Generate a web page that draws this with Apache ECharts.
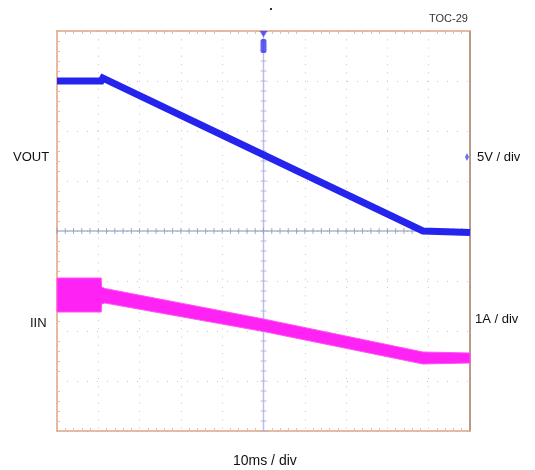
<!DOCTYPE html>
<html><head><meta charset="utf-8">
<script src="https://cdn.jsdelivr.net/npm/echarts@6/dist/echarts.min.js"></script>
<style>html,body{margin:0;padding:0;background:#fff}#c{width:535px;height:470px}</style>
</head><body><div id="c"></div>
<script>
// time in ms relative to screen centre (10 ms / div), amplitude in divisions
const voutTime = [-50, -39.3, -38.9, 38.6, 50];
const vout = [3.0, 3.0, 3.06, 0, -0.03];
const iinTime = [-50, -39.3, -39.2, -38.4, 0, 38.6, 50];
const iinTop = [-0.94, -0.94, -1.12, -1.15, -1.76, -2.42, -2.44];
const iinBottom = [-1.62, -1.62, -1.46, -1.44, -2.01, -2.66, -2.64];
const xTicks = [-50, -40, -30, -20, -10, 0, 10, 20, 30, 40, 50];
const yTicks = [-4, -3, -2, -1, 0, 1, 2, 3, 4];

const hCentreTicks = [];
for (let x = -50; x <= 50; x += 2) hCentreTicks.push([x, 0]);
const vCentreTicks = [];
for (let y = -4; y <= 4.001; y += 0.2) vCentreTicks.push([0, +y.toFixed(2)]);

const chart = echarts.init(document.getElementById('c'), null, {renderer: 'canvas'});
const tan = '#dfa57f', brown = '#a27a62', gridCol = '#c4c4dc';
const axisBase = (pos, color, ticks) => ({
  type: 'value', position: pos, min: pos === 'left' || pos === 'right' ? -4 : -50,
  max: pos === 'left' || pos === 'right' ? 4 : 50,
  interval: pos === 'left' || pos === 'right' ? 1 : 10,
  axisLine: {show: true, onZero: false, lineStyle: {color: color, width: 1.5}},
  axisTick: {show: false, inside: true},
  minorTick: {show: ticks, splitNumber: 5, length: 3, lineStyle: {color: '#d8c0c0', width: 1}},
  axisLabel: {show: false},
  splitLine: {show: false}
});
const xb = axisBase('bottom', tan, true);
xb.splitLine = {show: true, lineStyle: {color: gridCol, type: [1, 7.26], width: 1}};
const yl = axisBase('left', tan, true);
yl.splitLine = {show: true, lineStyle: {color: gridCol, type: [1, 9], width: 1}};

chart.setOption({
  animation: false,
  backgroundColor: '#fff',
  grid: {left: 57, top: 31, right: 65, bottom: 39, containLabel: false},
  xAxis: [xb, axisBase('top', tan, true)],
  yAxis: [yl, axisBase('right', brown, false)],
  graphic: [
    {type: 'text', left: 429, top: 13, style: {text: 'TOC-29', font: '11px "Liberation Sans", Arial', fill: '#333'}},
    {type: 'text', left: 13, top: 151, style: {text: 'VOUT', font: '13px "Liberation Sans", Arial', fill: '#111'}},
    {type: 'text', left: 477, top: 151, style: {text: '5V / div', font: '13px "Liberation Sans", Arial', fill: '#111'}},
    {type: 'text', left: 30, top: 317, style: {text: 'IIN', font: '13px "Liberation Sans", Arial', fill: '#111'}},
    {type: 'text', left: 475, top: 313, style: {text: '1A / div', font: '13px "Liberation Sans", Arial', fill: '#111'}},
    {type: 'text', left: 233, top: 454, style: {text: '10ms / div', font: '14px "Liberation Sans", Arial', fill: '#111'}},
    {type: 'rect', left: 270, top: 8, shape: {width: 2, height: 2}, style: {fill: '#333'}}
  ],
  series: [
    {type: 'line', silent: true, symbol: 'none', z: 1,
     data: [[0, -4], [0, 4]], lineStyle: {color: '#bcbcea', width: 1.5}},
    {type: 'line', silent: true, symbol: 'none', z: 1,
     data: [[-50, 0], [50, 0]], lineStyle: {color: '#8592b4', width: 1.2}},
    {type: 'scatter', silent: true, z: 1, symbol: 'rect', symbolSize: [1, 6],
     itemStyle: {color: '#8d98b8'}, data: hCentreTicks},
    {type: 'scatter', silent: true, z: 1, symbol: 'rect', symbolSize: [6, 1],
     itemStyle: {color: '#a8a8dc'}, data: vCentreTicks},
    {name: 'IIN', type: 'custom', silent: true, z: 3,
     encode: {x: 0, y: [1, 2]},
     data: iinTime.map((t, i) => [t, iinTop[i], iinBottom[i]]),
     renderItem: function (params, api) {
       if (params.dataIndex !== 0) return null;
       const pts = [];
       for (let i = 0; i < iinTime.length; i++) pts.push(api.coord([iinTime[i], iinTop[i]]));
       for (let i = iinTime.length - 1; i >= 0; i--) pts.push(api.coord([iinTime[i], iinBottom[i]]));
       return {type: 'polygon', shape: {points: pts},
               style: {fill: '#ff22f4', stroke: '#ff50f6', lineWidth: 1}};
     }},
    {name: 'VOUT', type: 'line', symbol: 'none', silent: true, z: 4,
     lineStyle: {color: '#2424ee', width: 7, cap: 'butt', join: 'miter'},
     data: voutTime.map((t, i) => [t, vout[i]])},
    {type: 'scatter', silent: true, z: 5, symbol: 'triangle', symbolRotate: 180,
     symbolSize: [8, 6], symbolOffset: [0, 3], itemStyle: {color: '#3a3aee'}, data: [[0, 4]]},
    {type: 'scatter', silent: true, z: 5, symbol: 'roundRect',
     symbolSize: [6, 14], symbolOffset: [0, 15], itemStyle: {color: '#3a3aee'}, data: [[0, 4]]},
    {type: 'scatter', silent: true, z: 5, symbol: 'diamond',
     symbolSize: [4, 8], symbolOffset: [-3, 0], itemStyle: {color: '#4a4aee'}, data: [[50, 1.48]]}
  ]
});
</script></body></html>
